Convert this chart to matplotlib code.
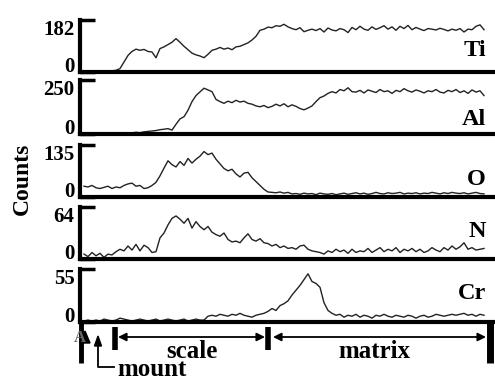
import matplotlib
matplotlib.use("Agg")
import matplotlib.pyplot as plt
from matplotlib.patches import Polygon
from matplotlib.transforms import blended_transform_factory

plt.rcParams["font.family"] = "Liberation Serif"
plt.rcParams["font.weight"] = "bold"

# line-scan position (arbitrary units, 4 per step)
x = list(range(4, 405, 4))

ti = [1, 0, 1, 0, 2, 1, 3, 4, 6, 12,
      35, 58, 72, 80, 76, 79, 72, 70, 50, 82,
      88, 96, 104, 117, 104, 90, 78, 66, 60, 56,
      50, 62, 76, 80, 86, 80, 84, 78, 88, 90,
      96, 102, 112, 125, 146, 150, 157, 155, 162, 160,
      167, 158, 152, 148, 155, 141, 146, 150, 145, 152,
      140, 154, 147, 144, 152, 148, 138, 156, 148, 160,
      150, 146, 158, 149, 155, 162, 150, 158, 146, 160,
      152, 163, 148, 156, 150, 145, 152, 150, 147, 153,
      149, 144, 150, 146, 152, 140, 150, 148, 160, 165,
      148]
al = [1, 0, 1, 0, 1, 0, 1, 0, 1, 2,
      1, 3, 5, 8, 6, 10, 12, 14, 16, 20,
      22, 25, 18, 45, 70, 80, 110, 150, 178, 195,
      212, 204, 196, 160, 150, 142, 152, 145, 156, 148,
      152, 142, 138, 130, 126, 132, 122, 128, 138, 130,
      140, 126, 135, 128, 118, 112, 120, 130, 150, 168,
      176, 188, 196, 190, 206, 200, 214, 196, 194, 202,
      190, 204, 198, 192, 206, 196, 200, 188, 202, 196,
      210, 200, 194, 204, 198, 190, 200, 196, 206, 194,
      190, 202, 196, 206, 192, 200, 188, 204, 194, 200,
      178]
o = [28, 26, 30, 24, 22, 25, 28, 22, 26, 24,
     30, 34, 36, 28, 30, 22, 24, 30, 38, 55,
     75, 94, 84, 78, 92, 82, 100, 88, 98, 106,
     118, 110, 114, 98, 86, 74, 68, 72, 60, 52,
     62, 64, 50, 40, 30, 20, 13, 12, 11, 13,
     10, 12, 8, 9, 7, 10, 8, 9, 6, 10,
     8, 7, 9, 6, 8, 10, 7, 9, 11, 8,
     10, 7, 9, 12, 9, 8, 11, 9, 10, 12,
     8, 10, 9, 11, 8, 10, 9, 12, 10, 8,
     11, 9, 12, 10, 9, 11, 8, 10, 12, 9,
     8]
n = [6, 3, 8, 4, 7, 2, 6, 5, 9, 12,
     10, 16, 11, 18, 10, 17, 14, 8, 9, 26,
     32, 42, 50, 53, 49, 44, 50, 38, 46, 40,
     36, 40, 33, 30, 28, 32, 24, 21, 22, 20,
     26, 31, 24, 22, 25, 20, 19, 16, 18, 14,
     16, 13, 14, 12, 16, 17, 12, 10, 9, 8,
     6, 10, 8, 12, 9, 11, 7, 12, 8, 10,
     9, 13, 8, 11, 14, 9, 12, 10, 14, 8,
     12, 10, 13, 9, 12, 8, 10, 14, 11, 9,
     14, 11, 16, 12, 15, 20, 12, 14, 11, 12,
     13]
cr = [1, 2, 1, 2, 1, 3, 2, 1, 2, 4,
      3, 2, 1, 2, 3, 2, 1, 2, 3, 1,
      2, 3, 2, 1, 2, 3, 1, 2, 3, 2,
      2, 6, 7, 6, 8, 7, 6, 8, 7, 9,
      7, 6, 5, 7, 8, 9, 11, 14, 12, 17,
      19, 22, 28, 33, 38, 44, 50, 42, 40, 36,
      20, 12, 9, 7, 8, 5, 7, 6, 8, 5,
      7, 6, 4, 7, 6, 8, 6, 5, 7, 6,
      5, 7, 6, 4, 6, 7, 5, 6, 8, 7,
      6, 7, 8, 7, 8, 9, 7, 8, 6, 8,
      7]

elements = ["Ti", "Al", "O", "N", "Cr"]
series = [ti, al, o, n, cr]
ymax = [182, 250, 135, 64, 55]

# region boundaries along the scan (same units as x)
mount_end, scale_end, matrix_end = 35, 188, 410

W, H = 495, 381
LEFT = 80
XMAX = 415
panels_px = [(20, 72), (80, 134), (145, 197), (207, 259), (269, 322)]
label_y = [0.42, 0.26, 0.33, 0.52, 0.53]

fig = plt.figure(figsize=(W / 100, H / 100), dpi=100)

for el, vals, top, (y0, y1), ly in zip(elements, series, ymax, panels_px, label_y):
    ax = fig.add_axes([LEFT / W, 1 - y1 / H, (W - LEFT) / W, (y1 - y0) / H])
    ax.plot(x, vals, color="#222222", lw=1.0)
    ax.set_xlim(0, XMAX)
    ax.set_ylim(0, top)
    for s in ("top", "right"):
        ax.spines[s].set_visible(False)
    for s in ("left", "bottom"):
        ax.spines[s].set_linewidth(3)
        ax.spines[s].set_capstyle("projecting")
    ax.set_xticks([])
    ax.set_yticks([0, top])
    labs = ax.set_yticklabels(["0", str(top)], fontsize=15, fontweight="bold")
    labs[0].set_va("baseline")
    labs[1].set_va("top")
    ax.tick_params(axis="y", direction="in", length=11, width=2.5, pad=4)
    ax.patch.set_alpha(0)
    tr = blended_transform_factory(ax.transData, ax.transAxes)
    ax.text(406, ly, el, transform=tr, ha="right", va="center",
            fontsize=17.5, fontweight="bold")

fig.text(22 / W, 1 - 179 / H, "Counts", rotation=90, ha="center", va="center",
         fontsize=17, fontweight="bold")

# annotation strip below the panels, in pixel coordinates
oax = fig.add_axes([0, 0, 1, 1])
oax.set_xlim(0, W)
oax.set_ylim(H, 0)
oax.axis("off")
oax.patch.set_alpha(0)

px = lambda v: LEFT + v
k = "black"
oax.plot([81, 81], [322, 363], color=k, lw=3.5, solid_capstyle="butt")
oax.text(80, 338, "A", ha="center", va="center", fontsize=12, color="#666")
oax.add_patch(Polygon([(80, 343), (90, 343), (85, 331)], closed=True, color=k))

# mount pointer
oax.plot([98, 98, 114], [344, 367, 367], color=k, lw=1.3)
oax.add_patch(Polygon([(94.5, 346), (101.5, 346), (98, 336)], closed=True, color=k))
oax.text(117, 370, "mount", ha="left", va="center", fontsize=18)

for xb in (mount_end, scale_end):
    oax.plot([px(xb), px(xb)], [327, 350], color=k, lw=4, solid_capstyle="butt")
oax.plot([px(matrix_end), px(matrix_end)], [322, 363], color=k, lw=5, solid_capstyle="butt")

arrow = dict(arrowstyle="<|-|>", color=k, lw=1.3, mutation_scale=12,
             shrinkA=0, shrinkB=0)
oax.annotate("", xy=(px(mount_end) + 3, 337), xytext=(px(scale_end) - 3, 337),
             arrowprops=arrow)
oax.annotate("", xy=(px(scale_end) + 5, 337), xytext=(px(matrix_end) - 4, 337),
             arrowprops=arrow)
oax.text(px((mount_end + scale_end) / 2), 351, "scale", ha="center", va="center", fontsize=18)
oax.text(px((scale_end + matrix_end) / 2) - 5, 352, "matrix", ha="center", va="center", fontsize=18)

fig.savefig("out.png", dpi=100, facecolor="white")
